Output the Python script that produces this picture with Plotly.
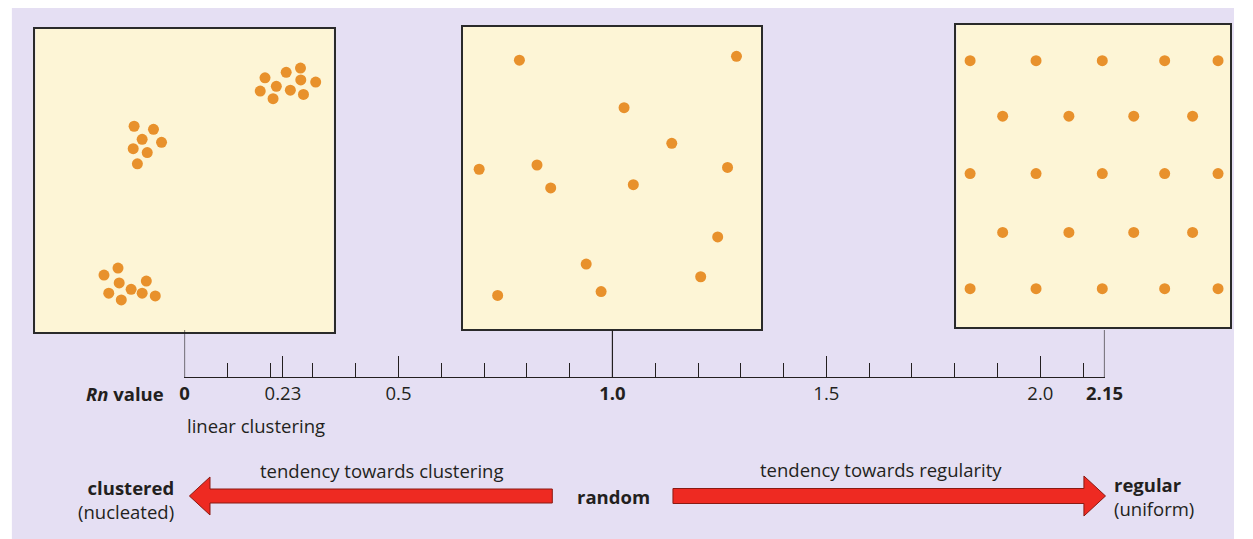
import plotly.graph_objects as go

W, H = 1253, 539

# ---------------- data ----------------
# Panel 1: clustered (nucleated) pattern, positions in panel units (0-100)
clustered_x = [77.0, 84.1, 88.9, 89.0, 94.0, 80.8, 75.4, 85.5, 89.9, 79.7,
               33.1, 39.6, 35.8, 42.3, 32.8, 37.5, 34.2,
               27.7, 23.0, 28.1, 37.2, 32.1, 24.6, 35.8, 40.2, 28.8]
clustered_y = [83.9, 85.7, 87.1, 83.2, 82.5, 81.1, 79.5, 79.8, 78.4, 77.0,
               67.9, 66.9, 63.6, 62.6, 60.5, 59.2, 55.5,
               21.1, 18.8, 16.2, 16.8, 14.1, 12.8, 12.8, 11.9, 10.6]

# Panel 2: random pattern
random_x = [18.9, 91.7, 54.0, 70.0, 5.4, 24.8, 88.7, 29.4, 57.1, 85.4, 41.3, 79.7, 11.6, 46.3]
random_y = [89.0, 90.3, 73.3, 61.5, 52.9, 54.3, 53.5, 46.7, 47.8, 30.5, 21.5, 17.3, 11.1, 12.4]

# Panel 3: regular (uniform) pattern
regular_x = [5.0, 29.1, 53.3, 76.1, 95.6,
             16.9, 41.1, 64.8, 86.3,
             5.0, 29.1, 53.3, 76.1, 95.6,
             16.9, 41.1, 64.8, 86.3,
             5.0, 29.1, 53.3, 76.1, 95.6]
regular_y = [88.2] * 5 + [69.8] * 4 + [50.8] * 5 + [31.3] * 4 + [12.7] * 5

# Rn scale
rn_min, rn_max = 0.0, 2.15
rn_tick_vals = [0, 0.23, 0.5, 1.0, 1.5, 2.0, 2.15]
rn_tick_text = ["<b>0</b>", "0.23", "0.5", "<b>1.0</b>", "1.5", "2.0", "<b>2.15</b>"]
rn_minor_step = 0.1
rn_connectors = [0, 1.0, 2.15]

# ---------------- styles ----------------
BG = "#e5dff3"
PANEL = "#fdf5d6"
DOT = "#e8912c"
INK = "#231f20"
RED = "#ee2a22"
RED_EDGE = "#8a1a12"
FONT = "Open Sans"
FS = 18.5


def X(px):
    return px / W


def Y(py):
    return 1 - py / H


fig = go.Figure()

panels = [
    (clustered_x, clustered_y, "x", "y"),
    (random_x, random_y, "x2", "y2"),
    (regular_x, regular_y, "x3", "y3"),
]
for xs, ys, xa, ya in panels:
    fig.add_trace(go.Scatter(x=xs, y=ys, xaxis=xa, yaxis=ya, mode="markers",
                             marker=dict(size=11, color=DOT, line=dict(width=0)),
                             hoverinfo="skip", showlegend=False, cliponaxis=False))

for v in rn_connectors:
    fig.add_trace(go.Scatter(x=[v, v], y=[0, 1], xaxis="x4", yaxis="y4", mode="lines",
                             line=dict(color=INK, width=1.2), hoverinfo="skip",
                             showlegend=False, cliponaxis=False))

panel_axis = dict(showline=True, mirror=True, linecolor="#2a2a2a", linewidth=1.6,
                  showticklabels=False, ticks="", showgrid=False, zeroline=False,
                  range=[0, 100], fixedrange=True)

layout = dict(
    width=W, height=H, margin=dict(l=0, r=0, t=0, b=0),
    paper_bgcolor="white", plot_bgcolor="rgba(0,0,0,0)",
    font=dict(family=FONT, color=INK, size=FS),
    showlegend=False,
    xaxis=dict(domain=[X(31), X(335)], anchor="y", **panel_axis),
    yaxis=dict(domain=[Y(332), Y(29)], anchor="x", **panel_axis),
    xaxis2=dict(domain=[X(467), X(771)], anchor="y2", **panel_axis),
    yaxis2=dict(domain=[Y(329), Y(27)], anchor="x2", **panel_axis),
    xaxis3=dict(domain=[X(970), X(1249)], anchor="y3", **panel_axis),
    yaxis3=dict(domain=[Y(327), Y(25)], anchor="x3", **panel_axis),
    xaxis4=dict(domain=[X(183), X(1121)], anchor="y4", range=[rn_min, rn_max],
                showline=True, linecolor=INK, linewidth=1.2, showgrid=False, zeroline=False,
                ticks="inside", ticklen=21, tickwidth=1, tickcolor=INK,
                tickvals=rn_tick_vals, ticktext=rn_tick_text,
                tickfont=dict(family=FONT, size=FS, color=INK),
                minor=dict(ticks="inside", dtick=rn_minor_step, tick0=rn_min, ticklen=14,
                           tickwidth=1, tickcolor=INK, showgrid=False),
                fixedrange=True),
    yaxis4=dict(domain=[Y(377), Y(330)], anchor="x4", range=[0, 1], visible=False,
                fixedrange=True),
)

shapes = [
    dict(type="rect", xref="paper", yref="paper", x0=X(7), x1=1, y0=0, y1=Y(8),
         fillcolor=BG, line=dict(width=0), layer="below"),
]
for xa, ya in [("x", "y"), ("x2", "y2"), ("x3", "y3")]:
    shapes.append(dict(type="rect", xref=f"{xa} domain", yref=f"{ya} domain",
                       x0=0, x1=1, y0=0, y1=1, fillcolor=PANEL, line=dict(width=0),
                       layer="below"))


def arrow_path(tail, tip, cy, shaft_h, head_h, head_len):
    d = 1 if tip > tail else -1
    base = tip - d * head_len
    pts = [(tail, cy - shaft_h / 2), (base, cy - shaft_h / 2), (base, cy - head_h / 2),
           (tip, cy), (base, cy + head_h / 2), (base, cy + shaft_h / 2),
           (tail, cy + shaft_h / 2)]
    return "M " + " L ".join(f"{X(px):.5f},{Y(py):.5f}" for px, py in pts) + " Z"


shapes.append(dict(type="path", xref="paper", yref="paper",
                   path=arrow_path(558, 188, 496, 14, 38, 21),
                   fillcolor=RED, line=dict(color=RED_EDGE, width=1)))
shapes.append(dict(type="path", xref="paper", yref="paper",
                   path=arrow_path(681, 1122, 496, 15, 40, 22),
                   fillcolor=RED, line=dict(color=RED_EDGE, width=1)))
layout["shapes"] = shapes


def ann(text, x, y, xanchor="center", size=FS, align="center"):
    return dict(text=text, x=X(x), y=Y(y), xref="paper", yref="paper", showarrow=False,
                xanchor=xanchor, yanchor="middle", align=align,
                font=dict(family=FONT, size=size, color=INK))


layout["annotations"] = [
    ann("<b><i>Rn</i> value</b>", 164, 393, "right"),
    ann("linear clustering", 184, 425, "left"),
    ann("tendency towards clustering", 384, 470, "center"),
    ann("tendency towards regularity", 893, 469, "center"),
    ann("<b>clustered</b><br>(nucleated)", 174, 499, "right", align="right"),
    ann("<b>random</b>", 620, 496, "center"),
    ann("<b>regular</b><br>(uniform)", 1129, 496, "left", align="left"),
]

fig.update_layout(**layout)
post = (
    "document.documentElement.style.margin='0px';"
    "document.body.style.margin='0px';"
    "document.documentElement.style.overflow='hidden';"
    "document.body.style.overflow='hidden';"
)
fig.write_html("out.html", post_script=post, config={"displayModeBar": False})
